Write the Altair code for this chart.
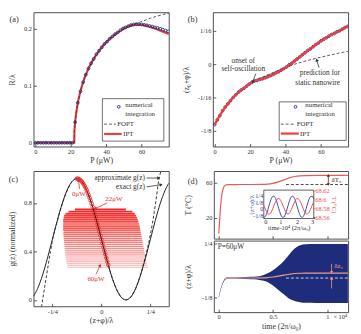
import altair as alt
import pandas as pd

FONT = "Liberation Serif"
INK = "#333333"
FRAME = "#4d4d4d"
RED = "#f23a3a"
RED_T = "#f25656"
NAVY = "#1f2c7c"
BLUE_IN = "#3b49a3"
RED_IN = "#ee5050"
SALMON = "#ec9c84"
PALE = "#c9d0ea"

# ======================= DATA =======================
# (a) R/lambda vs P
a_num_P = [i * 1.5 for i in range(51)]
a_num_R = [0.0] * 15 + [
    0.036, 0.070, 0.090, 0.106, 0.119, 0.130, 0.139, 0.147, 0.155, 0.161,
    0.167, 0.173, 0.177, 0.182, 0.186, 0.190, 0.193, 0.197, 0.200, 0.202,
    0.204, 0.206, 0.207, 0.2075, 0.2075, 0.207, 0.2065, 0.2055, 0.2045, 0.2035,
    0.202, 0.201, 0.1995, 0.198, 0.1965, 0.195]
a_ipt_P = [0, 22, 22.1, 22.5, 23, 24, 25, 26, 27, 28, 30, 32, 34, 36, 38, 40, 42, 44,
           46, 48, 50, 52, 54, 56, 58, 60, 62, 64, 66, 68, 70, 72, 74, 75.5]
a_ipt_R = [0, 0, 0.02, 0.036, 0.05, 0.07, 0.084, 0.096, 0.106, 0.115, 0.13, 0.142, 0.152,
           0.161, 0.169, 0.176, 0.182, 0.187, 0.192, 0.196, 0.2, 0.203, 0.205, 0.2065,
           0.207, 0.2065, 0.205, 0.2035, 0.2015, 0.1995, 0.197, 0.1945, 0.192, 0.19]
a_fopt_P = [0, 22, 22.1, 22.5, 23, 24, 26, 28, 30, 34, 38, 42, 46, 50, 53, 56, 59, 62,
            65, 68, 71, 74, 75.5]
a_fopt_R = [0, 0, 0.02, 0.036, 0.05, 0.07, 0.096, 0.115, 0.13, 0.152, 0.169, 0.182,
            0.192, 0.2, 0.2045, 0.208, 0.211, 0.2145, 0.218, 0.221, 0.2235, 0.226, 0.227]

# (b) (z0+phi)/lambda vs P
b_num_P = [i * 1.5 for i in range(51)]
b_num_Y = [-0.113, -0.104, -0.096, -0.087, -0.080, -0.074, -0.068, -0.062, -0.057, -0.052,
           -0.048, -0.045, -0.041, -0.037, -0.034, -0.031, -0.030, -0.028, -0.027, -0.025,
           -0.023, -0.021, -0.019, -0.016, -0.014, -0.011, -0.008, -0.005, -0.001, 0.002,
           0.006, 0.010, 0.014, 0.018, 0.022, 0.026, 0.029, 0.033, 0.037, 0.040,
           0.044, 0.047, 0.050, 0.053, 0.056, 0.058, 0.061, 0.063, 0.066, 0.069, 0.071]
b_ipt_P = [0, 4.2, 7.9, 12.5, 17.1, 19.9, 22, 25, 28.2, 33.7, 39.2, 43.8, 48.4, 54, 59.5,
           65, 70.5, 75.3]
b_ipt_Y = [-0.113, -0.089, -0.072, -0.055, -0.043, -0.036, -0.032, -0.029, -0.026, -0.018,
           -0.008, 0.003, 0.015, 0.029, 0.043, 0.054, 0.063, 0.072]
b_fopt_P = [0, 4.2, 7.9, 12.5, 17.1, 19.9, 22, 26, 30, 35, 40, 45, 50, 55, 60, 65, 70, 75.3]
b_fopt_Y = [-0.113, -0.089, -0.072, -0.055, -0.043, -0.036, -0.032, -0.0255, -0.0195,
            -0.0125, -0.0058, 0.0002, 0.0052, 0.0095, 0.0135, 0.0173, 0.021, 0.0245]

# (c) g(z) curves
c_ex_x = [-0.3465, -0.325, -0.3, -0.275, -0.25, -0.225, -0.2, -0.175, -0.15, -0.125, -0.1,
          -0.075, -0.05, -0.025, 0, 0.025, 0.05, 0.075, 0.1, 0.125, 0.15, 0.175, 0.2,
          0.225, 0.25, 0.275, 0.3, 0.325, 0.3435]
c_ex_g = [0.03, 0.095, 0.206, 0.345, 0.5, 0.655, 0.794, 0.905, 0.976, 1.0, 0.976, 0.905,
          0.794, 0.655, 0.5, 0.345, 0.206, 0.095, 0.024, 0.0, 0.024, 0.095, 0.206, 0.345,
          0.5, 0.655, 0.794, 0.905, 0.962]
c_ap_x = [-0.306, -0.3, -0.29, -0.28, -0.27, -0.26, -0.25, -0.225, -0.2, -0.175, -0.15,
          -0.125, -0.1, -0.075, -0.05, -0.025, 0, 0.025, 0.05, 0.075, 0.1, 0.125, 0.15,
          0.175, 0.2, 0.225, 0.25, 0.26, 0.27, 0.28, 0.29, 0.3, 0.306]
c_ap_g = [-0.06, 0.0, 0.1, 0.2, 0.3, 0.4, 0.49, 0.65, 0.79, 0.9, 0.975, 1.0, 0.976, 0.905,
          0.794, 0.655, 0.5, 0.345, 0.206, 0.095, 0.024, 0.0, 0.024, 0.095, 0.21, 0.36,
          0.54, 0.63, 0.73, 0.84, 0.96, 1.04, 1.08]
# red chain: working point for 0..60 uW
c_ch_x = [round(-0.125 + 0.005 * i, 3) for i in range(33)]
c_ch_g = [1.0, 0.999, 0.996, 0.991, 0.984, 0.976, 0.965, 0.952, 0.938, 0.922, 0.905,
          0.885, 0.864, 0.842, 0.819, 0.794, 0.768, 0.741, 0.713, 0.684, 0.655, 0.624,
          0.594, 0.563, 0.531, 0.5, 0.469, 0.437, 0.406, 0.376, 0.345, 0.316, 0.287]
# red stripes: oscillation range at each power 22..60 uW
c_st_g = [0.745, 0.728, 0.711, 0.694, 0.677, 0.660, 0.643, 0.626, 0.609, 0.592, 0.575,
          0.558, 0.541, 0.524, 0.507, 0.490, 0.473, 0.456, 0.439, 0.422, 0.405, 0.388,
          0.371, 0.354, 0.337, 0.320, 0.303, 0.286, 0.269]
c_st_l = [-0.135, -0.168, -0.183, -0.190, -0.193, -0.195, -0.195, -0.195, -0.195, -0.195,
          -0.195, -0.194, -0.194, -0.193, -0.192, -0.191, -0.190, -0.189, -0.188, -0.187,
          -0.186, -0.185, -0.184, -0.183, -0.182, -0.180, -0.178, -0.176, -0.174]
c_st_r = [0.125, 0.158, 0.170, 0.177, 0.182, 0.186, 0.189, 0.192, 0.195, 0.197, 0.199,
          0.201, 0.203, 0.205, 0.207, 0.209, 0.211, 0.213, 0.215, 0.217, 0.219, 0.221,
          0.223, 0.225, 0.227, 0.229, 0.232, 0.235, 0.238]

# (d) time traces
d_T_t = [0, 0.005, 0.01, 0.015, 0.02, 0.03, 0.04, 0.05, 0.065, 0.08, 0.1, 0.2, 0.3, 0.4,
         0.45, 0.5, 0.55, 0.6, 0.65, 0.7, 0.75, 0.8, 0.9, 1.0, 1.19]
d_T = [2, 10, 19, 29, 37, 47, 53, 56, 57.6, 58, 58.1, 58.2, 58.2, 58.3, 58.6, 59.5, 61.2,
       63.5, 65.8, 67.4, 68.2, 68.5, 68.6, 68.6, 68.6]
d_static_t = [0.62, 1.19]
d_static_T = [58.2, 58.2]
in_t = [0.0, 0.1, 0.2, 0.3, 0.4, 0.5, 0.6, 0.7, 0.8, 0.9, 1.0, 1.1, 1.2, 1.3, 1.4, 1.5,
        1.6, 1.7, 1.8, 1.9, 2.0, 2.1, 2.2, 2.3, 2.4, 2.5, 2.6, 2.7, 2.8, 2.9, 3.0]
in_z = [-0.160, -0.136, -0.060, 0.046, 0.149, 0.221, 0.239, 0.198, 0.110, 0.002, -0.095,
        -0.153, -0.153, -0.096, 0.001, 0.110, 0.198, 0.239, 0.221, 0.149, 0.046, -0.060,
        -0.136, -0.160, -0.124, -0.040, 0.067, 0.167, 0.229, 0.235, 0.184]
in_T = [68.587, 68.578, 68.570, 68.567, 68.569, 68.576, 68.586, 68.595, 68.601, 68.603,
        68.599, 68.591, 68.582, 68.573, 68.568, 68.568, 68.573, 68.582, 68.591, 68.599,
        68.603, 68.601, 68.595, 68.586, 68.576, 68.569, 68.567, 68.570, 68.578, 68.587,
        68.596]
env_t = [0, 0.01, 0.02, 0.03, 0.04, 0.05, 0.06, 0.08, 0.1, 0.2, 0.3, 0.35, 0.4, 0.45, 0.5,
         0.55, 0.6, 0.65, 0.7, 0.75, 0.8, 0.9, 1.0, 1.1, 1.19]
env_up = [-0.115, -0.085, -0.057, -0.033, -0.013, 0.001, 0.01, 0.017, 0.018, 0.017, 0.02,
          0.022, 0.03, 0.045, 0.066, 0.095, 0.13, 0.175, 0.215, 0.238, 0.245, 0.246, 0.246,
          0.246, 0.246]
env_lo = [-0.125, -0.095, -0.067, -0.043, -0.023, -0.009, 0.0, 0.007, 0.008, 0.007, 0.004,
          0.002, -0.005, -0.015, -0.04, -0.07, -0.1, -0.13, -0.146, -0.155, -0.159, -0.16,
          -0.16, -0.16, -0.16]
mean_t = [0.05, 0.1, 0.2, 0.3, 0.4, 0.45, 0.5, 0.55, 0.6, 0.65, 0.7, 0.75, 0.8, 1.19]
mean_z = [0.004, 0.013, 0.012, 0.012, 0.013, 0.015, 0.019, 0.025, 0.032, 0.038, 0.043,
          0.045, 0.046, 0.046]
stat_t = [0.62, 1.19]
stat_z = [0.012, 0.012]

# ======================= HELPERS =======================
one = pd.DataFrame({"k": [0]})
NUM = "format(datum.value, '~g')"


def frac_expr(pairs):
    return " : ".join(f"datum.value == {v} ? '{s}'" for v, s in pairs) + " : ''"


FR = [(0.25, "1/4"), (0.125, "1/8"), (0.0625, "1/16"), (0, "0"), (-0.0625, "-1/16"),
      (-0.125, "-1/8"), (-0.25, "-1/4")]


def yax(title, values, ext, tp, expr=NUM):
    return alt.Axis(title=title, values=values, orient="left", offset=-3, tickSize=3,
                    tickColor=INK, tickWidth=0.8, domain=False, grid=False, labelPadding=2,
                    labelFontSize=6.5, labelColor=INK, labelFont=FONT, titleFont=FONT,
                    titleFontSize=8, titleFontWeight="normal", titleColor=INK,
                    minExtent=ext, maxExtent=ext, titlePadding=tp, labelOverlap=False,
                    labelExpr=expr)


def xax(title, values, expr=NUM, labels=True, tp=2, ext=11.5):
    return alt.Axis(title=title, values=values, orient="bottom", offset=-3, tickSize=3,
                    tickColor=INK, tickWidth=0.8, domain=False, grid=False, labelPadding=2,
                    labelFontSize=6.5, labelColor=INK, labelFont=FONT, titleFont=FONT,
                    titleFontSize=8, titleFontWeight="normal", titleColor=INK,
                    titlePadding=tp, labels=labels, minExtent=ext, maxExtent=ext,
                    labelOverlap=False, labelExpr=expr)


def txt(s, x, y, size=7, color=INK, align="left"):
    return alt.Chart(one).mark_text(text=s, fontSize=size, font=FONT, color=color,
                                    align=align, baseline="middle").encode(
        x=alt.value(x), y=alt.value(y))


def legend(bx0, bx1, by0, by1, cx, cy, tx, ty1, ty2, d0, d1, dy, dtx, r0, r1, ry, rtx):
    box = alt.Chart(one).mark_rect(fill="white", stroke=INK, strokeWidth=0.7).encode(
        x=alt.value(bx0), x2=alt.value(bx1), y=alt.value(by0), y2=alt.value(by1))
    pt = alt.Chart(one).mark_point(shape="circle", filled=False, color=NAVY, size=8,
                                   strokeWidth=0.9, opacity=1).encode(
        x=alt.value(cx), y=alt.value(cy))
    dl = alt.Chart(one).mark_rule(color=INK, strokeWidth=0.8, strokeDash=[3, 2]).encode(
        x=alt.value(d0), x2=alt.value(d1), y=alt.value(dy))
    rl = alt.Chart(one).mark_rule(color=RED, strokeWidth=2.2).encode(
        x=alt.value(r0), x2=alt.value(r1), y=alt.value(ry))
    return [box, pt, txt("numerical", tx, ty1), txt("integration", tx, ty2), dl,
            txt("FOPT", dtx, dy), rl, txt("IPT", rtx, ry)]


def arrows(x1, y1, x2, y2, ang, color, xs, ys, width=0.8, size=13):
    df = pd.DataFrame({"x": x1, "y": y1, "x2": x2, "y2": y2, "ang": ang})
    rule = alt.Chart(df).mark_rule(color=color, strokeWidth=width).encode(
        x=alt.X("x:Q", scale=xs), y=alt.Y("y:Q", scale=ys), x2="x2:Q", y2="y2:Q")
    head = alt.Chart(df).mark_point(shape="triangle-up", filled=True, color=color,
                                    size=size, opacity=1).encode(
        x=alt.X("x2:Q", scale=xs), y=alt.Y("y2:Q", scale=ys),
        angle=alt.Angle("ang:Q", scale=None))
    return [rule, head]


def texts(xv, yv, sv, color, xs, ys, size=7.5, align="center"):
    df = pd.DataFrame({"x": xv, "y": yv, "t": sv})
    return alt.Chart(df).mark_text(fontSize=size, font=FONT, color=color, align=align,
                                   baseline="middle").encode(
        x=alt.X("x:Q", scale=xs), y=alt.Y("y:Q", scale=ys), text="t:N")


# ======================= PANEL (a) =======================
xs_a = alt.Scale(domain=[-1.0, 75.3], nice=False, zero=False)
ys_a = alt.Scale(domain=[-0.0065, 0.2285], nice=False, zero=False)
pa_ipt = alt.Chart(pd.DataFrame({"x": a_ipt_P, "y": a_ipt_R})).mark_line(
    color=RED, strokeWidth=2.2, clip=True).encode(
    x=alt.X("x:Q", scale=xs_a, axis=xax("P (μW)", [0, 20, 40, 60], tp=1.8)),
    y=alt.Y("y:Q", scale=ys_a, axis=yax("R/λ", [0, 0.05, 0.1, 0.15, 0.2], 18, 2)))
pa_fopt = alt.Chart(pd.DataFrame({"x": a_fopt_P, "y": a_fopt_R})).mark_line(
    color=INK, strokeWidth=0.8, strokeDash=[3, 2], clip=True).encode(
    x=alt.X("x:Q", scale=xs_a), y=alt.Y("y:Q", scale=ys_a))
pa_num = alt.Chart(pd.DataFrame({"x": a_num_P, "y": a_num_R})).mark_point(
    shape="circle", filled=False, color=NAVY, size=8, strokeWidth=0.9, opacity=1,
    clip=True).encode(x=alt.X("x:Q", scale=xs_a), y=alt.Y("y:Q", scale=ys_a))
pa = alt.layer(
    pa_ipt, pa_fopt, pa_num,
    *legend(70.3, 133, 88.2, 131.5, 87, 96.5, 93.7, 94.2, 104.2,
            72, 84, 114.2, 85.5, 72, 90, 124.2, 91.5),
    txt("(a)", -19.7, 6.5, size=8.5, align="center"),
).properties(width=138, height=137)

# ======================= PANEL (b) =======================
xs_b = alt.Scale(domain=[-1.0, 75.3], nice=False, zero=False)
ys_b = alt.Scale(domain=[-0.154, 0.0978], nice=False, zero=False)
pb_num = alt.Chart(pd.DataFrame({"x": b_num_P, "y": b_num_Y})).mark_point(
    shape="circle", filled=False, color=NAVY, size=8, strokeWidth=0.9, opacity=1,
    clip=True).encode(
    x=alt.X("x:Q", scale=xs_b, axis=xax("P (μW)", [0, 20, 40, 60], tp=1.8)),
    y=alt.Y("y:Q", scale=ys_b,
            axis=yax("(z₀+φ)/λ", [-0.125, -0.0625, 0, 0.0625], 22, 4.3, expr=frac_expr(FR))))
pb_fopt = alt.Chart(pd.DataFrame({"x": b_fopt_P, "y": b_fopt_Y})).mark_line(
    color=INK, strokeWidth=0.8, strokeDash=[3, 2], clip=True).encode(
    x=alt.X("x:Q", scale=xs_b), y=alt.Y("y:Q", scale=ys_b))
pb_ipt = alt.Chart(pd.DataFrame({"x": b_ipt_P, "y": b_ipt_Y})).mark_line(
    color=RED, strokeWidth=2.2, clip=True, interpolate="monotone").encode(
    x=alt.X("x:Q", scale=xs_b), y=alt.Y("y:Q", scale=ys_b))
pb = alt.layer(
    pb_num, pb_fopt, pb_ipt,
    *arrows([23.2, 58.9], [-0.0175, -0.0063], [21.5, 57.6], [-0.033, 0.0081], [202, 343],
            INK, xs_b, ys_b),
    texts([16.2, 16.2, 59.4, 58.1], [0.0063, -0.0092, -0.0171, -0.0355],
          ["onset of", "self-oscillation", "prediction for", "static nanowire"],
          INK, xs_b, ys_b),
    *legend(67.7, 136, 91.5, 130.8, 84.3, 96.5, 94.3, 94.8, 103.8,
            69.3, 84.3, 114.2, 85.5, 69.3, 87.7, 123.8, 88.8),
    txt("(b)", -20.7, 6.5, size=8.5, align="center"),
).properties(width=138, height=137)

# ======================= PANEL (c) =======================
xs_c = alt.Scale(domain=[-0.3465, 0.3435], nice=False, zero=False)
ys_c = alt.Scale(domain=[-0.0525, 1.063], nice=False, zero=False)
pc_st = alt.Chart(pd.DataFrame({"x": c_st_l, "x2": c_st_r, "y": c_st_g})).mark_rule().encode(
    x=alt.X("x:Q", scale=xs_c,
            axis=xax("(z+φ)/λ", [-0.25, -0.125, 0, 0.125, 0.25], expr=frac_expr(FR))),
    x2="x2:Q",
    y=alt.Y("y:Q", scale=ys_c,
            axis=yax("g(z)  (normalized)", [0, 0.2, 0.4, 0.6, 0.8, 1], 18, 2)),
    color=alt.Color("y:Q", scale=alt.Scale(domain=[0.269, 0.745],
                                           range=["#f7b3b3", "#e8262c"]), legend=None),
    strokeWidth=alt.StrokeWidth("y:Q", scale=alt.Scale(domain=[0.269, 0.745],
                                                       range=[1.0, 2.0]), legend=None))
pc_ex = alt.Chart(pd.DataFrame({"x": c_ex_x, "y": c_ex_g})).mark_line(
    color="#222222", strokeWidth=1.0, clip=True, interpolate="monotone").encode(
    x=alt.X("x:Q", scale=xs_c), y=alt.Y("y:Q", scale=ys_c))
pc_ap = alt.Chart(pd.DataFrame({"x": c_ap_x, "y": c_ap_g})).mark_line(
    color="#222222", strokeWidth=0.9, strokeDash=[3, 2], clip=True,
    interpolate="monotone").encode(x=alt.X("x:Q", scale=xs_c), y=alt.Y("y:Q", scale=ys_c))
pc_ch = alt.Chart(pd.DataFrame({"x": c_ch_x, "y": c_ch_g})).mark_point(
    shape="circle", filled=False, color="#ee2a2a", size=13, strokeWidth=0.9,
    opacity=1).encode(x=alt.X("x:Q", scale=xs_c), y=alt.Y("y:Q", scale=ys_c))
pc = alt.layer(
    pc_st, pc_ex, pc_ap, pc_ch,
    *arrows([-0.1115, 0.03, -0.028], [0.916, 0.80, 0.21], [-0.1165, -0.0315, -0.0065],
            [0.986, 0.754, 0.285], [353, 244, 25], "#e82a2a", xs_c, ys_c),
    *arrows([0.23, 0.23], [1.005, 0.932], [0.292, 0.305], [1.005, 0.95], [90, 80], INK,
            xs_c, ys_c),
    texts([-0.115, 0.0635, -0.028], [0.87, 0.83, 0.17], ["0μW", "22μW", "60μW"],
          "#e82a2a", xs_c, ys_c, size=7),
    texts([0.222, 0.222], [1.005, 0.932], ["approximate g(z)", "exact g(z)"], INK, xs_c,
          ys_c, size=7.5, align="right"),
    txt("(c)", -20.5, 8.5, size=8.5, align="center"),
).properties(width=138, height=138)

# ======================= PANEL (d) =======================
xs_d = alt.Scale(domain=[-0.045, 1.192], nice=False, zero=False)
ys_T = alt.Scale(domain=[-3.8, 73.7], nice=False, zero=False)
ys_z = alt.Scale(domain=[-0.223, 0.27], nice=False, zero=False)

dT_line = alt.Chart(pd.DataFrame({"x": d_T_t, "y": d_T})).mark_line(
    color=RED_T, strokeWidth=1.2, interpolate="monotone").encode(
    x=alt.X("x:Q", scale=xs_d,
            axis=xax(None, [0, 0.25, 0.5, 0.75, 1], labels=False, ext=0)),
    y=alt.Y("y:Q", scale=ys_T, axis=yax("T (°C)", [20, 40, 60], 22, 3)))
dT_stat = alt.Chart(pd.DataFrame({"x": d_static_t, "y": d_static_T})).mark_line(
    color=INK, strokeWidth=0.9, strokeDash=[3, 2]).encode(
    x=alt.X("x:Q", scale=xs_d), y=alt.Y("y:Q", scale=ys_T))
d_main = alt.layer(
    dT_line, dT_stat,
    *arrows([1.01, 1.01], [63.4, 63.4], [1.01, 1.01], [68.6, 58.2], [0, 180], "#552222",
            xs_d, ys_T, size=10),
    texts([1.04], [63.4], ["δT₀"], "#552222", xs_d, ys_T, size=7, align="left"),
    txt("(d)", -21.7, 10.5, size=8.5, align="center"),
)

xs_in = alt.Scale(domain=[0, 3], range=[51, 102], nice=False, zero=False)
ys_inb = alt.Scale(domain=[-0.18, 0.35], range=[48.5, 19.5], nice=False, zero=False)
ys_inr = alt.Scale(domain=[68.557, 68.622], range=[48.5, 19.5], nice=False, zero=False)
in_box = alt.Chart(one).mark_rect(fill="white", stroke=FRAME, strokeWidth=0.9).encode(
    x=alt.value(51), x2=alt.value(102), y=alt.value(19.5), y2=alt.value(48.5))
in_blue = alt.Chart(pd.DataFrame({"x": in_t, "y": in_z})).mark_line(
    color=BLUE_IN, strokeWidth=1.0, interpolate="monotone").encode(
    x=alt.X("x:Q", scale=xs_in, axis=alt.Axis(
        values=[0, 1, 2, 3], labelExpr=NUM, orient="bottom", offset=-22.5, tickSize=2,
        tickColor=INK, domain=False, grid=False, labelPadding=0, labelFontSize=6.5,
        labelColor=INK, labelFont=FONT, title="time-10⁴ (2π/ω₀)", titleFont=FONT,
        titleFontSize=6.5, titleFontWeight="normal", titleColor=INK, titlePadding=2.5,
        minExtent=6, maxExtent=6, labelOverlap=False)),
    y=alt.Y("y:Q", scale=ys_inb, axis=alt.Axis(
        values=[-0.125, 0, 0.125, 0.25], labelExpr=frac_expr(FR), orient="left",
        offset=-53, tickSize=2, tickColor=INK, domain=False, grid=False, labelPadding=1,
        labelFontSize=6.5, labelColor=BLUE_IN, labelFont=FONT, title="(z+φ)/λ",
        titleFont=FONT, titleFontSize=6.5, titleFontWeight="normal", titleColor=BLUE_IN,
        titlePadding=0, minExtent=11, maxExtent=11, labelOverlap=False)))
in_red = alt.Chart(pd.DataFrame({"x": in_t, "y": in_T})).mark_line(
    color=RED_IN, strokeWidth=1.0, interpolate="monotone").encode(
    x=alt.X("x:Q", scale=xs_in),
    y=alt.Y("y:Q", scale=ys_inr, axis=alt.Axis(
        values=[68.56, 68.58, 68.6, 68.62], labelExpr=NUM, orient="right", offset=-37,
        tickSize=2, tickColor=INK, domain=False, grid=False, labelPadding=1,
        labelFontSize=6.5, labelColor=RED_IN, labelFont=FONT, title="T (°C)",
        titleFont=FONT, titleFontSize=6.5, titleFontWeight="normal", titleColor=RED_IN,
        titlePadding=1, minExtent=18, maxExtent=18, labelOverlap=False)))
d_inset = alt.layer(in_box, in_blue, in_red).resolve_scale(y="independent")
d_top = alt.layer(d_main, d_inset).resolve_scale(
    x="independent", y="independent").properties(width=137, height=69)

dz_env = alt.Chart(pd.DataFrame({"x": env_t, "y": env_up, "y2": env_lo})).mark_area(
    color=NAVY, opacity=1, interpolate="monotone").encode(
    x=alt.X("x:Q", scale=xs_d,
            axis=xax("time (2π/ω₀)", [0, 0.25, 0.5, 0.75, 1], tp=2)),
    y=alt.Y("y:Q", scale=ys_z,
            axis=yax("(z+φ)/λ", [-0.125, 0, 0.125, 0.25], 22, 3, expr=frac_expr(FR))),
    y2="y2:Q")
dz_mean = alt.Chart(pd.DataFrame({"x": mean_t, "y": mean_z})).mark_line(
    color=SALMON, strokeWidth=1.2, interpolate="monotone").encode(
    x=alt.X("x:Q", scale=xs_d), y=alt.Y("y:Q", scale=ys_z))
dz_stat = alt.Chart(pd.DataFrame({"x": stat_t, "y": stat_z})).mark_line(
    color=PALE, strokeWidth=1.0, strokeDash=[3, 2]).encode(
    x=alt.X("x:Q", scale=xs_d), y=alt.Y("y:Q", scale=ys_z))
d_bot = alt.layer(
    dz_env, dz_mean, dz_stat,
    *arrows([1.04, 1.04], [0.11, -0.06], [1.04, 1.04], [0.052, 0.01], [180, 0], SALMON,
            xs_d, ys_z, size=10),
    texts([1.065], [0.095], ["δz₀"], SALMON, xs_d, ys_z, size=7, align="left"),
    txt("P=60μW", 4, 6.5, size=7.5),
    txt("× 10⁴", 122, 78.5, size=6.5),
).properties(width=137, height=73)

pd_ = alt.vconcat(d_top, d_bot, spacing=0)

row1 = alt.hconcat(pa, pb, spacing=12)
row2 = alt.hconcat(pc, pd_, spacing=14)
chart = alt.vconcat(row1, row2, spacing=5).properties(
    padding={"left": 0, "top": 0, "right": 2, "bottom": 0},
    background="white",
).configure(font=FONT).configure_view(stroke=FRAME, strokeWidth=1)

chart.save("out.html", embed_options={"renderer": "svg", "actions": False})
